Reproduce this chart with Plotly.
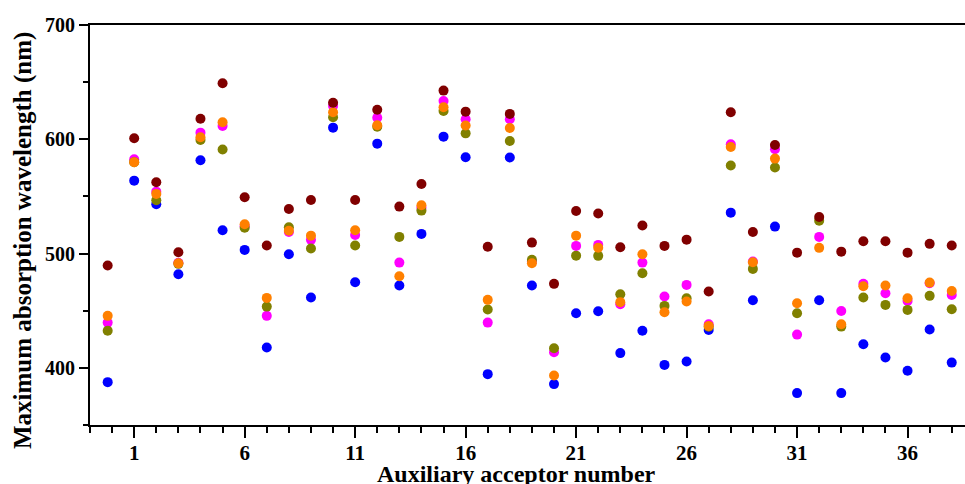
import plotly.graph_objects as go

# Auxiliary acceptor index (first entry is the reference dye, drawn just left of 0)
acceptor = [-0.2] + list(range(1, 39))

# Maximum absorption wavelength (nm) for each computational level
blue = [387.5, 563.8, 543.2, 481.9, 581.6, 520.4, 503.2, 417.8, 499.4, 461.5,
        610.2, 474.9, 596.2, 472.0, 517.2, 602.3, 584.3, 394.5, 584.0, 472.0,
        385.8, 447.8, 449.6, 412.9, 432.4, 402.6, 405.5, 433.2, 535.8, 459.2,
        523.6, 377.9, 459.2, 377.9, 420.7, 409.0, 397.4, 433.5, 404.6]
magenta = [439.6, 582.5, 554.2, 492.0, 605.8, 611.7, 524.0, 445.5, 518.9, 512.0,
           629.2, 516.3, 618.9, 492.1, 540.0, 633.5, 617.5, 439.6, 617.5, 493.0,
           413.7, 506.7, 507.6, 455.7, 492.1, 462.4, 472.6, 438.2, 595.6, 493.0,
           591.3, 429.1, 514.6, 449.8, 473.5, 465.3, 458.6, 474.0, 463.8]
olive = [432.4, 580.0, 546.6, 491.0, 599.4, 591.0, 522.7, 453.6, 523.0, 504.4,
         619.3, 507.1, 611.0, 514.6, 537.6, 624.8, 605.2, 451.0, 598.5, 494.5,
         417.2, 498.2, 498.0, 464.4, 482.8, 454.2, 460.9, 436.0, 577.0, 486.6,
         575.3, 447.8, 528.8, 436.1, 461.5, 455.1, 450.7, 463.0, 451.3]
orange = [445.5, 580.0, 552.2, 491.6, 601.8, 614.9, 525.7, 461.2, 520.0, 515.7,
          623.6, 520.4, 612.3, 480.2, 542.3, 628.0, 612.0, 459.5, 609.9, 491.6,
          393.3, 515.7, 505.2, 457.5, 499.4, 448.7, 458.0, 436.7, 593.3, 492.4,
          583.1, 456.6, 505.0, 438.2, 471.4, 472.0, 460.9, 474.6, 467.3]
darkred = [489.5, 600.9, 562.4, 501.2, 618.0, 649.0, 549.3, 507.0, 539.0, 546.9,
           632.0, 546.9, 625.9, 541.1, 560.9, 642.6, 624.2, 506.0, 622.2, 509.6,
           473.5, 537.3, 535.0, 505.5, 524.5, 506.7, 512.2, 466.8, 623.6, 518.9,
           595.0, 500.8, 532.0, 501.7, 510.8, 510.8, 500.8, 508.5, 507.0]

# Drawn bottom to top
series = [
    (blue, "#0000FF"),
    (magenta, "#FF00FF"),
    (olive, "#808000"),
    (orange, "#FF8000"),
    (darkred, "#800000"),
]

fig = go.Figure()
for values, color in series:
    fig.add_trace(go.Scatter(
        x=acceptor, y=values, mode="markers",
        marker=dict(size=10, color=color, line=dict(width=0)),
        showlegend=False,
    ))

font_family = "Liberation Serif"
fig.update_layout(
    width=965, height=484,
    margin=dict(l=90, r=0, t=25, b=59),
    plot_bgcolor="white", paper_bgcolor="white",
    font=dict(family=font_family, color="black"),
)
fig.update_xaxes(
    range=[-1, 38.6], automargin=False,
    tick0=1, dtick=5,
    ticks="outside", ticklen=11, tickwidth=2, tickcolor="black",
    minor=dict(dtick=1, tick0=1, ticks="outside", ticklen=6, tickwidth=2, tickcolor="black"),
    showline=True, linewidth=2, linecolor="black", mirror=True,
    showgrid=False, zeroline=False,
    tickfont=dict(size=21, family=font_family, color="black", weight="bold"),
    ticklabelstandoff=-3,
)
fig.update_yaxes(
    range=[350, 700], automargin=False,
    tick0=400, dtick=100,
    ticks="outside", ticklen=9, tickwidth=2, tickcolor="black",
    minor=dict(dtick=50, ticks="outside", ticklen=5, tickwidth=2, tickcolor="black"),
    showline=True, linewidth=2, linecolor="black",
    showgrid=False, zeroline=False,
    tickfont=dict(size=20, family=font_family, color="black", weight="bold"),
)

# Axis titles
fig.add_annotation(
    text="<b>Auxiliary acceptor number</b>",
    xref="paper", yref="paper", x=0.487, y=-0.085,
    xanchor="center", yanchor="top", showarrow=False,
    font=dict(size=24, family=font_family, color="black"),
)
fig.add_annotation(
    text="<b>Maximum absorption wavelength (nm)</b>",
    xref="paper", yref="paper", x=-0.0765, y=0.46,
    xanchor="center", yanchor="middle", textangle=-90, showarrow=False,
    font=dict(size=25, family=font_family, color="black"),
)

fig.write_html("out.html")
